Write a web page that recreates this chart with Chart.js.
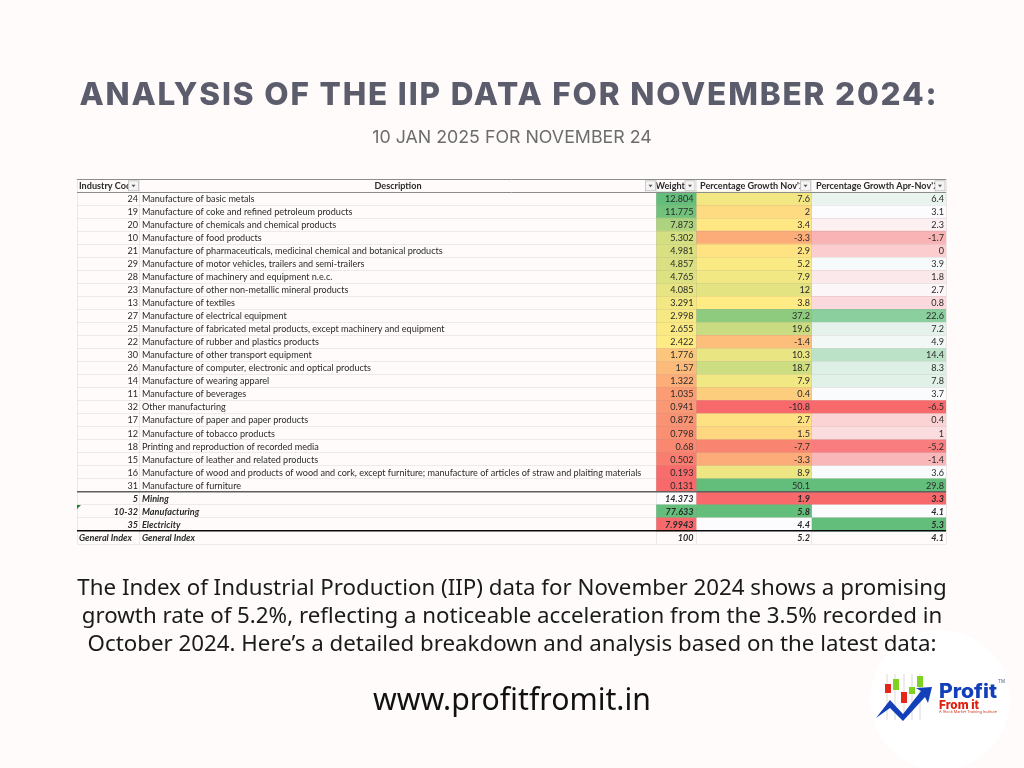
<!DOCTYPE html>
<html lang="en">
<head>
<meta charset="utf-8">
<title>Analysis of the IIP data for November 2024</title>
<script src="https://cdn.jsdelivr.net/npm/chart.js@4"></script>
<style>
    html, body { margin: 0; padding: 0; }
    body { position: relative; width: 1024px; height: 768px; overflow: hidden; background: #fffbfa; }
    #grafico { position: absolute; left: 0; top: 0; }
    .texto { position: absolute; left: 0; width: 1024px; text-align: center; white-space: nowrap; }
    #titulo { top: 74px; left: -3px; font: 800 31.5px/40px Inter, sans-serif; letter-spacing: 1.85px; color: #5b5c6c; }
    #subtitulo { top: 126px; font: 400 17.8px/22px Inter, sans-serif; color: #6c6c6c; }
    #parrafo { top: 573px; font: 400 22.3px/28px "Noto Sans", sans-serif; color: #1a1a1a; }
    #web { top: 680px; font: 400 30.2px/38px "Noto Sans", sans-serif; color: #111; }
    #logo { position: absolute; left: 0; top: 0; }
</style>
</head>
<body>
<canvas id="grafico" width="1024" height="768"></canvas>
<svg id="logo" width="1024" height="768">
    <circle cx="940" cy="700" r="70" fill="#ffffff"/>
    <g stroke="#d9d9d9" stroke-width="1">
        <line x1="887" y1="674" x2="887" y2="720"/>
        <line x1="895" y1="674" x2="895" y2="720"/>
        <line x1="904" y1="674" x2="904" y2="720"/>
        <line x1="912" y1="674" x2="912" y2="720"/>
        <line x1="920" y1="674" x2="920" y2="720"/>
    </g>
    <rect x="885" y="684" width="6" height="9" fill="#e5261b"/>
    <rect x="893" y="679" width="6" height="11" fill="#7ed321"/>
    <rect x="901" y="692" width="6" height="11" fill="#e5261b"/>
    <rect x="909" y="687" width="6" height="7" fill="#7ed321"/>
    <rect x="917" y="676" width="6" height="11" fill="#7ed321"/>
    <path d="M876 718 L890 700 L903 714 L921 691 L916 688 L932 687 L928 703 L925 697 L903 721 L890 708 Z" fill="#1340b8"/>
    <text x="939" y="698" font-family="Inter, sans-serif" font-weight="800" font-size="20" fill="#1340b8" textLength="58" lengthAdjust="spacingAndGlyphs">Profit</text>
    <text x="939" y="708.5" font-family="Inter, sans-serif" font-weight="800" font-size="12" fill="#e0200f" textLength="40" lengthAdjust="spacingAndGlyphs">From it</text>
    <text x="939" y="713" font-family="Inter, sans-serif" font-size="3.4" fill="#d8301f" textLength="58" lengthAdjust="spacingAndGlyphs">A Stock Market Training Institute</text>
    <text x="998" y="683" font-family="Inter, sans-serif" font-size="4.5" fill="#53608f">TM</text>
</svg>
<div class="texto" id="titulo">ANALYSIS OF THE IIP DATA FOR NOVEMBER 2024:</div>
<div class="texto" id="subtitulo">10 JAN 2025 FOR NOVEMBER 24</div>
<div class="texto" id="parrafo">The Index of Industrial Production (IIP) data for November 2024 shows a promising<br>growth rate of 5.2%, reflecting a noticeable acceleration from the 3.5% recorded in<br>October 2024. Here’s a detailed breakdown and analysis based on the latest data:</div>
<div class="texto" id="web">www.profitfromit.in</div>

<script>
// ------------------------------ Datos de la tabla ------------------------------

const codigos = ["24", "19", "20", "10", "21", "29", "28", "23", "13", "27", "25", "22", "30", "26", "14", "11", "32", "17", "12", "18", "15", "16", "31", "5", "10-32", "35", "General Index"];

const descripciones = [
    "Manufacture of basic metals",
    "Manufacture of coke and refined petroleum products",
    "Manufacture of chemicals and chemical products",
    "Manufacture of food products",
    "Manufacture of pharmaceuticals, medicinal chemical and botanical products",
    "Manufacture of motor vehicles, trailers and semi-trailers",
    "Manufacture of machinery and equipment n.e.c.",
    "Manufacture of other non-metallic mineral products",
    "Manufacture of textiles",
    "Manufacture of electrical equipment",
    "Manufacture of fabricated metal products, except machinery and equipment",
    "Manufacture of rubber and plastics products",
    "Manufacture of other transport equipment",
    "Manufacture of computer, electronic and optical products",
    "Manufacture of wearing apparel",
    "Manufacture of beverages",
    "Other manufacturing",
    "Manufacture of paper and paper products",
    "Manufacture of tobacco products",
    "Printing and reproduction of recorded media",
    "Manufacture of leather and related products",
    "Manufacture of wood and products of wood and cork, except furniture; manufacture of articles of straw and plaiting materials",
    "Manufacture of furniture",
    "Mining",
    "Manufacturing",
    "Electricity",
    "General Index"
];

const pesos = [12.804, 11.775, 7.873, 5.302, 4.981, 4.857, 4.765, 4.085, 3.291, 2.998, 2.655, 2.422, 1.776, 1.57, 1.322, 1.035, 0.941, 0.872, 0.798, 0.68, 0.502, 0.193, 0.131, 14.373, 77.633, 7.9943, 100];
const crecimientoNov = [7.6, 2, 3.4, -3.3, 2.9, 5.2, 7.9, 12, 3.8, 37.2, 19.6, -1.4, 10.3, 18.7, 7.9, 0.4, -10.8, 2.7, 1.5, -7.7, -3.3, 8.9, 50.1, 1.9, 5.8, 4.4, 5.2];
const crecimientoApr = [6.4, 3.1, 2.3, -1.7, 0, 3.9, 1.8, 2.7, 0.8, 22.6, 7.2, 4.9, 14.4, 8.3, 7.8, 3.7, -6.5, 0.4, 1, -5.2, -1.4, 3.6, 29.8, 3.3, 4.1, 5.3, 4.1];

const encabezados = ["Industry Code", "Description", "Weight", "Percentage Growth Nov'24", "Percentage Growth Apr-Nov'24"];

// ------------------------------ Geometría y colores ------------------------------

// Bordes de las columnas, en píxeles desde el borde izquierdo de la tabla
const bordesColumnas = [0, 62.5, 579.5, 619, 734.5, 869];
const inicioEncabezado = [2, 0, 578.5, 623, 739];
const FILAS_INDUSTRIA = 23;
const FILAS_SECTOR = 26;

const ROJO = [248, 105, 107];
const AMARILLO = [255, 235, 132];
const BLANCO = [252, 252, 255];
const VERDE = [99, 190, 123];

function mezclar(a, b, t) {
    const c = a.map((v, i) => Math.round(v + (b[i] - v) * t));
    return `rgb(${c[0]}, ${c[1]}, ${c[2]})`;
}

function mediana(valores) {
    const orden = [...valores].sort((a, b) => a - b);
    return orden[Math.floor(orden.length / 2)];
}

// Escala de tres colores, igual que el formato condicional de la hoja de cálculo
function colorEscala(valor, grupo, colorMedio) {
    const min = Math.min(...grupo);
    const max = Math.max(...grupo);
    const medio = mediana(grupo);
    if (valor <= medio) return mezclar(ROJO, colorMedio, (valor - min) / (medio - min));
    return mezclar(colorMedio, VERDE, (valor - medio) / (max - medio));
}

function coloresColumna(valores, colorMedio) {
    const industrias = valores.slice(0, FILAS_INDUSTRIA);
    const sectores = valores.slice(FILAS_INDUSTRIA, FILAS_SECTOR);
    return valores.map((v, i) => {
        if (i < FILAS_INDUSTRIA) return colorEscala(v, industrias, colorMedio);
        if (i < FILAS_SECTOR) return colorEscala(v, sectores, BLANCO);
        return "rgba(0, 0, 0, 0)";
    });
}

// La fila 0 es el encabezado, por eso no lleva celda de color
function datasetColumna(columna, valores, colorMedio) {
    return {
        label: encabezados[columna],
        data: [null, ...valores.map(() => [bordesColumnas[columna], bordesColumnas[columna + 1]])],
        backgroundColor: ["rgba(0, 0, 0, 0)", ...coloresColumna(valores, colorMedio)],
        barPercentage: 1,
        categoryPercentage: 1,
        grouped: false
    };
}

// ------------------------------ Textos de las celdas ------------------------------

function dibujarBotonFiltro(ctx, derecha, centroY) {
    ctx.fillStyle = "#f4f4f4";
    ctx.strokeStyle = "#b5b5b5";
    ctx.lineWidth = 0.7;
    ctx.fillRect(derecha - 10, centroY - 5, 10, 10);
    ctx.strokeRect(derecha - 10, centroY - 5, 10, 10);
    ctx.fillStyle = "#555";
    ctx.beginPath();
    ctx.moveTo(derecha - 7, centroY - 1);
    ctx.lineTo(derecha - 3, centroY - 1);
    ctx.lineTo(derecha - 5, centroY + 1.5);
    ctx.fill();
}

const pluginTextos = {
    id: "textosTabla",
    afterDraw(chart) {
        const { ctx, scales: { x, y } } = chart;
        const px = v => x.getPixelForValue(v);

        ctx.save();
        ctx.textBaseline = "middle";

        descripciones.forEach((descripcion, i) => {
            const fila = i + 1;
            const centroY = y.getPixelForValue(fila) + 0.4;
            ctx.font = (i >= FILAS_INDUSTRIA ? "italic 700 " : "400 ") + "9.08px Lato, sans-serif";
            ctx.fillStyle = "#2a2a2a";

            if (i === codigos.length - 1) {
                ctx.textAlign = "left";
                ctx.fillText(codigos[i], px(0) + 2, centroY);
            } else {
                ctx.textAlign = "right";
                ctx.fillText(codigos[i], px(bordesColumnas[1]) - 1.5, centroY);
            }
            ctx.textAlign = "left";
            ctx.fillText(descripcion, px(bordesColumnas[1]) + 2.5, centroY);

            ctx.textAlign = "right";
            ctx.fillText(String(pesos[i]), px(bordesColumnas[3]) - 2.5, centroY);
            ctx.fillText(String(crecimientoNov[i]), px(bordesColumnas[4]) - 1.5, centroY);
            ctx.fillText(String(crecimientoApr[i]), px(bordesColumnas[5]) - 2, centroY);
        });

        // Encabezado con sus botones de filtro, el texto se corta en el botón
        const centroEncabezado = y.getPixelForValue(0) + 0.3;
        encabezados.forEach((texto, i) => {
            const derecha = px(bordesColumnas[i + 1]) - 1;
            ctx.save();
            ctx.beginPath();
            ctx.rect(px(bordesColumnas[i]), centroEncabezado - 6, derecha - 10 - px(bordesColumnas[i]), 12);
            ctx.clip();
            ctx.font = "700 9.08px Lato, sans-serif";
            ctx.fillStyle = "#2a2a2a";
            if (i === 1) {
                ctx.textAlign = "center";
                ctx.fillText(texto, px(321), centroEncabezado);
            } else {
                ctx.textAlign = "left";
                ctx.fillText(texto, px(inicioEncabezado[i]), centroEncabezado);
            }
            ctx.restore();
            dibujarBotonFiltro(ctx, derecha, centroEncabezado);
        });

        // Triangulito verde de la celda 10-32
        const arribaManufactura = y.getPixelForValue(FILAS_INDUSTRIA + 2) - 6.5;
        ctx.fillStyle = "#1e7d32";
        ctx.beginPath();
        ctx.moveTo(px(0), arribaManufactura);
        ctx.lineTo(px(0) + 4, arribaManufactura);
        ctx.lineTo(px(0), arribaManufactura + 4);
        ctx.fill();

        ctx.restore();
    }
};

// ------------------------------ Gráfico ------------------------------

const ctx = document.getElementById("grafico").getContext("2d");

new Chart(ctx, {
    type: "bar",
    data: {
        labels: [encabezados[1], ...descripciones],
        datasets: [
            datasetColumna(2, pesos, AMARILLO),
            datasetColumna(3, crecimientoNov, AMARILLO),
            datasetColumna(4, crecimientoApr, BLANCO)
        ]
    },
    options: {
        indexAxis: "y",
        responsive: false,
        animation: false,
        layout: { padding: { left: 77, top: 179, right: 78, bottom: 224 } },
        plugins: {
            legend: { display: false },
            tooltip: { enabled: false }
        },
        scales: {
            x: {
                type: "linear",
                min: bordesColumnas[0],
                max: bordesColumnas[bordesColumnas.length - 1],
                afterBuildTicks: escala => {
                    escala.ticks = bordesColumnas.map(v => ({ value: v }));
                },
                ticks: { display: false },
                border: { display: false },
                grid: {
                    z: 1,
                    drawTicks: false,
                    color: "rgba(150, 140, 140, 0.22)",
                    lineWidth: 0.8
                }
            },
            y: {
                ticks: { display: false, autoSkip: false },
                border: { display: false },
                grid: {
                    z: 2,
                    drawTicks: false,
                    color: c => {
                        if (c.index === FILAS_INDUSTRIA + 1) return "#5f5f5f";
                        if (c.index === FILAS_SECTOR + 1) return "#0a0a0a";
                        if (c.index === 0 || c.index === 1) return "#8c8c8c";
                        return "rgba(150, 140, 140, 0.2)";
                    },
                    lineWidth: c => {
                        if (c.index === FILAS_INDUSTRIA + 1 || c.index === FILAS_SECTOR + 1) return 1.6;
                        if (c.index === 0 || c.index === 1) return 1;
                        return 0.8;
                    }
                }
            }
        }
    },
    plugins: [pluginTextos]
});
</script>
</body>
</html>
